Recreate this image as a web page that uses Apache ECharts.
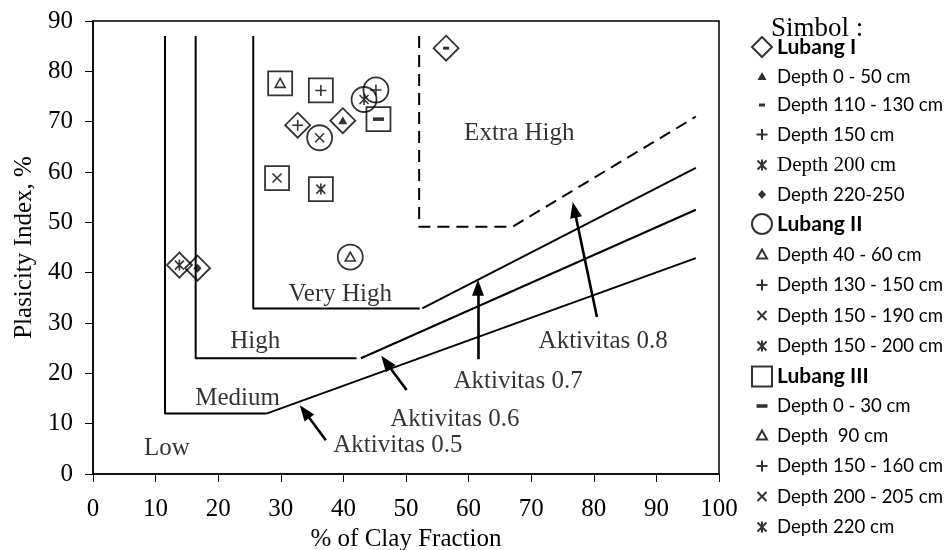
<!DOCTYPE html>
<html>
<head>
<meta charset="utf-8">
<script src="https://cdn.jsdelivr.net/npm/echarts@6/dist/echarts.min.js"></script>
<style>
  html, body { margin: 0; padding: 0; background: #fff; }
  #chart { width: 948px; height: 550px; }
</style>
</head>
<body>
<div id="chart"></div>
<script>
const SERIF = '"Liberation Serif", "Times New Roman", serif';
const SANS = 'Lato, "Noto Sans", sans-serif';

// Soil samples: clay fraction (%) and plasticity index (%), grouped by pit
const lubang1Depths = ['Depth 0 - 50 cm', 'Depth 110 - 130 cm', 'Depth 150 cm', 'Depth 200 cm', 'Depth 220-250'];
const lubang1Clay   = [39.9, 56.4, 32.7, 13.8, 16.7];
const lubang1PI     = [70.2, 84.6, 69.3, 41.5, 40.9];
const lubang1Marks  = ['triFill', 'dashSmall', 'plus', 'star', 'diaFill'];

const lubang2Depths = ['Depth 40 - 60 cm', 'Depth 130 - 150 cm', 'Depth 150 - 190 cm', 'Depth 150 - 200 cm'];
const lubang2Clay   = [41.1, 45.2, 36.2, 43.3];
const lubang2PI     = [43.1, 76.3, 66.8, 74.4];
const lubang2Marks  = ['triOpen', 'plus', 'cross', 'star'];

const lubang3Depths = ['Depth 0 - 30 cm', 'Depth  90 cm', 'Depth 150 - 160 cm', 'Depth 200 - 205 cm', 'Depth 220 cm'];
const lubang3Clay   = [45.6, 29.9, 36.4, 29.4, 36.4];
const lubang3PI     = [70.5, 77.6, 76.2, 58.8, 56.6];
const lubang3Marks  = ['dashBig', 'triOpen', 'plus', 'cross', 'star'];

// Swelling-potential class boundaries
const lowMediumX     = [11.5, 11.5, 27.7];
const lowMediumY     = [87, 12, 12];
const mediumHighX    = [16.4, 16.4, 42.1];
const mediumHighY    = [87, 23, 23];
const highVeryHighX  = [25.6, 25.6, 52.2];
const highVeryHighY  = [87, 32.9, 32.9];
const extraHighX     = [52.1, 52.1, 67.0, 96.3];
const extraHighY     = [87, 49.1, 49.1, 71.0];

// Activity lines
const aktivitas05X = [27.7, 96.3];
const aktivitas05Y = [12.0, 42.9];
const aktivitas06X = [42.8, 96.3];
const aktivitas06Y = [23.0, 52.5];
const aktivitas07X = [52.6, 96.3];
const aktivitas07Y = [32.9, 60.8];

// Pointer arrows (tail -> head)
const arrowTailX = [37.2, 50.1, 61.5, 80.5];
const arrowTailY = [6.7, 16.7, 22.8, 31.2];
const arrowHeadX = [33.8, 46.8, 61.5, 76.9];
const arrowHeadY = [12.4, 22.2, 37.0, 52.5];

// Text annotations placed in data coordinates
const noteText = ['Low', 'Medium', 'High', 'Very High', 'Extra High',
                  'Aktivitas 0.8', 'Aktivitas 0.7', 'Aktivitas 0.6', 'Aktivitas 0.5'];
const noteX = [11.8, 23.1, 25.9, 39.5, 68.1, 81.5, 67.9, 57.8, 48.7];
const noteY = [5.1, 15.0, 26.3, 35.7, 67.6, 26.3, 18.4, 10.8, 5.6];

const zip = (xs, ys) => xs.map((x, i) => [x, ys[i]]);

// Inner glyphs drawn in a 20x20 box (corner moves keep the box size fixed)
const PAD = 'M0 0M20 20';
const glyphs = {
  triFill:   { d: 'M10 5.5L14.5 13.5L5.5 13.5Z', fill: true },
  dashSmall: { d: 'M7 8.5L13 8.5L13 11.5L7 11.5Z', fill: true },
  dashBig:   { d: 'M4.5 8.2L15.5 8.2L15.5 11.8L4.5 11.8Z', fill: true },
  diaFill:   { d: 'M10 5.5L14 10L10 14.5L6 10Z', fill: true },
  plus:      { d: 'M10 4.5L10 15.5M4.5 10L15.5 10', fill: false },
  cross:     { d: 'M5.5 5.5L14.5 14.5M14.5 5.5L5.5 14.5', fill: false },
  star:      { d: 'M5.5 5.5L14.5 14.5M14.5 5.5L5.5 14.5M10 4.5L10 15.5', fill: false },
  triOpen:   { d: 'M10 5L15 14L5 14Z', fill: false }
};

const groups = [
  { name: 'Lubang I',   shape: 'diamond', size: 25, depths: lubang1Depths, clay: lubang1Clay, pi: lubang1PI, marks: lubang1Marks },
  { name: 'Lubang II',  shape: 'circle',  size: 25, depths: lubang2Depths, clay: lubang2Clay, pi: lubang2PI, marks: lubang2Marks },
  { name: 'Lubang III', shape: 'rect',    size: 24, depths: lubang3Depths, clay: lubang3Clay, pi: lubang3PI, marks: lubang3Marks }
];

const series = [];
const legendNames = [];

const boundary = (xs, ys, dashed) => ({
  type: 'line', data: zip(xs, ys), symbol: 'none', silent: true, z: 1,
  lineStyle: { color: '#000', width: 2, type: dashed ? [12, 7] : 'solid' }
});
series.push(boundary(lowMediumX, lowMediumY));
series.push(boundary(mediumHighX, mediumHighY));
series.push(boundary(highVeryHighX, highVeryHighY));
series.push(boundary(extraHighX, extraHighY, true));
series.push(boundary(aktivitas05X, aktivitas05Y));
series.push(boundary(aktivitas06X, aktivitas06Y));
series.push(boundary(aktivitas07X, aktivitas07Y));

// arrows
series.push({
  type: 'line', data: [], silent: true,
  markLine: {
    silent: true, animation: false,
    symbol: ['none', 'triangle'], symbolSize: [12, 16],
    label: { show: false },
    lineStyle: { color: '#000', width: 2.6, type: 'solid' },
    emphasis: { disabled: true },
    data: arrowTailX.map((x, i) => [
      { coord: [x, arrowTailY[i]] },
      { coord: [arrowHeadX[i], arrowHeadY[i]] }
    ])
  }
});

// annotations
series.push({
  type: 'scatter', silent: true, symbolSize: 0, z: 2,
  data: noteText.map((t, i) => ({ name: t, value: [noteX[i], noteY[i]] })),
  label: {
    show: true, position: 'inside', formatter: p => p.name,
    color: '#000', fontFamily: SERIF, fontSize: 25
  }
});

groups.forEach(g => {
  legendNames.push(g.name);
  series.push({
    name: g.name, type: 'scatter', symbol: g.shape, symbolSize: g.size, z: 5,
    data: zip(g.clay, g.pi),
    itemStyle: { color: 'rgba(0,0,0,0)', borderColor: '#000', borderWidth: 1.8 }
  });
  g.depths.forEach((dn, i) => {
    legendNames.push(dn);
    const gl = glyphs[g.marks[i]];
    series.push({
      name: dn, type: 'scatter', symbol: 'path://' + PAD + gl.d, symbolSize: 20, z: 6,
      data: [[g.clay[i], g.pi[i]]],
      itemStyle: gl.fill
        ? { color: '#000', borderWidth: 0 }
        : { color: 'rgba(0,0,0,0)', borderColor: '#000', borderWidth: 1.6 }
    });
  });
});

const headerNames = groups.map(g => g.name);

const chart = echarts.init(document.getElementById('chart'));
chart.setOption({
  animation: false,
  backgroundColor: '#fff',
  title: {
    text: 'Simbol :', left: 771, top: 15, padding: 0,
    textStyle: { fontFamily: SERIF, fontSize: 27, fontWeight: 'normal', color: '#000' }
  },
  grid: {
    left: 93, right: 229, top: 21, bottom: 76, show: true,
    borderColor: '#000', borderWidth: 1.5, outerBoundsMode: 'none', containLabel: false
  },
  xAxis: {
    type: 'value', min: 0, max: 100, interval: 10,
    axisLine: { show: true, lineStyle: { color: '#000', width: 1.5 } },
    axisTick: { show: true, length: 8, lineStyle: { color: '#000', width: 1 } },
    splitLine: { show: false },
    axisLabel: { color: '#000', fontFamily: SERIF, fontSize: 25, margin: 23 },
    name: '% of Clay Fraction', nameLocation: 'middle', nameGap: 51,
    nameTextStyle: { color: '#000', fontFamily: SERIF, fontSize: 25 }
  },
  yAxis: {
    type: 'value', min: 0, max: 90, interval: 10,
    axisLine: { show: true, lineStyle: { color: '#000', width: 1.5 } },
    axisTick: { show: true, length: 8, lineStyle: { color: '#000', width: 1 } },
    splitLine: { show: false },
    axisLabel: { color: '#000', fontFamily: SERIF, fontSize: 25, margin: 20 },
    name: 'Plasicity Index, %', nameLocation: 'middle', nameGap: 50,
    nameTextStyle: { color: '#000', fontFamily: SERIF, fontSize: 25 }
  },
  legend: {
    orient: 'vertical', left: 746, top: 31, bottom: 0,
    itemWidth: 20, itemHeight: 20, itemGap: 8.5,
    data: legendNames,
    selectedMode: false,
    formatter: name => headerNames.includes(name) ? '{h|' + name + '}'
      : (name === 'Depth 200 cm' ? '{s|' + name + '}' : '{d|' + name + '}'),
    textStyle: {
      color: '#000', fontFamily: SANS, fontSize: 19, lineHeight: 20,
      rich: {
        h: { color: '#000', fontFamily: SANS, fontSize: 21, fontWeight: 'bold', lineHeight: 20 },
        s: { color: '#000', fontFamily: SERIF, fontSize: 21, lineHeight: 20 },
        d: { color: '#000', fontFamily: SANS, fontSize: 18.6, lineHeight: 20 }
      }
    }
  },
  series: series
});
</script>
</body>
</html>
